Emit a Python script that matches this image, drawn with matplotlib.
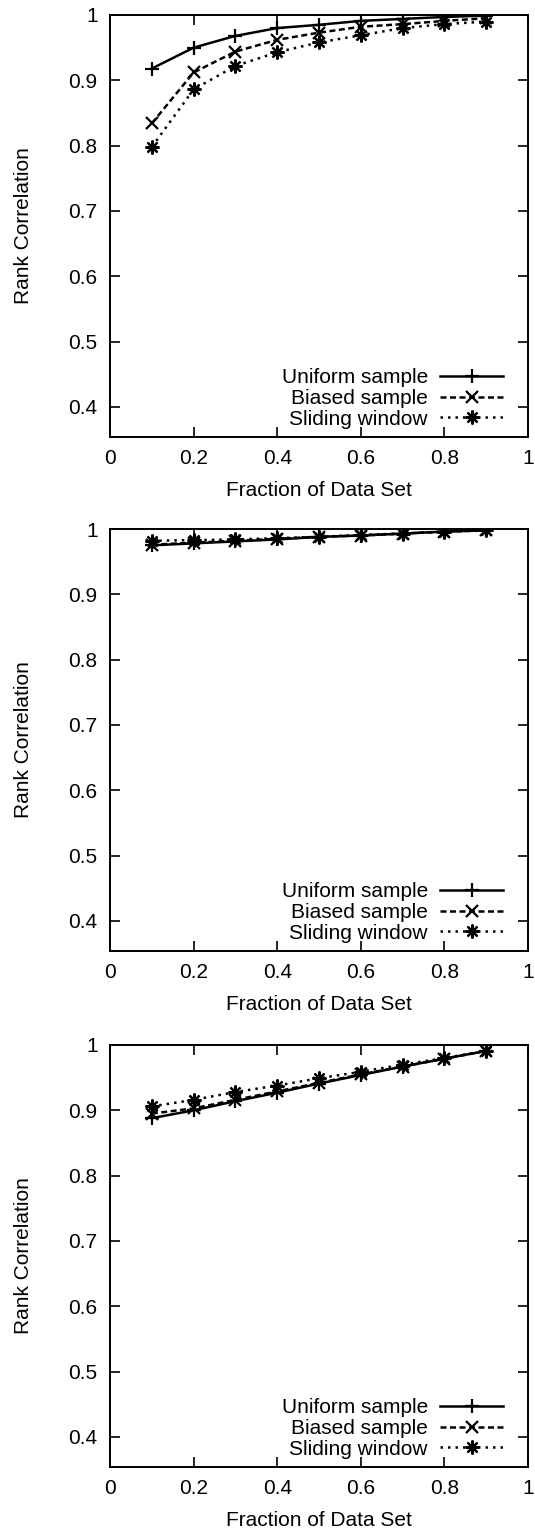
import matplotlib
matplotlib.use('Agg')
import matplotlib.pyplot as plt

plt.rcParams['font.family'] = ['Liberation Sans', 'DejaVu Sans']
plt.rcParams['font.size'] = 15

FRACTION = [0.1, 0.2, 0.3, 0.4, 0.5, 0.6, 0.7, 0.8, 0.9]
LABELS = ['Uniform sample', 'Biased sample', 'Sliding window']
X_TICKS = [0, 0.2, 0.4, 0.6, 0.8, 1]
X_TICK_LABELS = ['0', '0.2', '0.4', '0.6', '0.8', '1']
Y_TICKS = [0.4, 0.5, 0.6, 0.7, 0.8, 0.9, 1.0]
Y_TICK_LABELS = ['0.4', '0.5', '0.6', '0.7', '0.8', '0.9', '1']

# top panel
uniform_1 = [0.918, 0.950, 0.968, 0.980, 0.985, 0.991, 0.994, 0.997, 0.999]
biased_1 = [0.834, 0.912, 0.944, 0.962, 0.973, 0.982, 0.986, 0.991, 0.995]
sliding_1 = [0.798, 0.886, 0.922, 0.943, 0.958, 0.969, 0.980, 0.986, 0.990]

# middle panel
uniform_2 = [0.975, 0.978, 0.981, 0.984, 0.988, 0.990, 0.993, 0.996, 0.998]
biased_2 = [0.976, 0.979, 0.982, 0.985, 0.988, 0.990, 0.993, 0.996, 0.998]
sliding_2 = [0.982, 0.983, 0.984, 0.986, 0.988, 0.991, 0.993, 0.996, 0.998]

# bottom panel
uniform_3 = [0.888, 0.900, 0.914, 0.927, 0.941, 0.954, 0.967, 0.979, 0.991]
biased_3 = [0.895, 0.903, 0.916, 0.929, 0.942, 0.955, 0.967, 0.979, 0.991]
sliding_3 = [0.906, 0.916, 0.928, 0.938, 0.949, 0.959, 0.970, 0.980, 0.991]

PANELS = [(uniform_1, biased_1, sliding_1),
          (uniform_2, biased_2, sliding_2),
          (uniform_3, biased_3, sliding_3)]

STYLES = [dict(linestyle='-', marker='+', markersize=10, markeredgewidth=1.6),
          dict(linestyle=(0, (2.4, 1.4)), marker='x', markersize=8,
               markeredgewidth=1.6),
          dict(linestyle=(0, (1.0, 2.0)), marker=(8, 2, 0), markersize=10,
               markeredgewidth=1.6)]

W, H = 535, 1536
fig = plt.figure(figsize=(W / 100, H / 100), dpi=100)

ax_left, ax_right = 110, 528
panel_tops = [15, 529, 1045]
panel_height = 422

for (uniform, biased, sliding), top in zip(PANELS, panel_tops):
    bottom = top + panel_height
    ax = fig.add_axes([ax_left / W, 1 - bottom / H,
                       (ax_right - ax_left) / W, panel_height / H])
    for series, label, style in zip((uniform, biased, sliding), LABELS, STYLES):
        ax.plot(FRACTION, series, color='black', linewidth=1.8,
                label=label, **style)

    ax.set_xlim(0, 1)
    ax.set_ylim(0.354, 1.0)
    ax.set_xticks(X_TICKS)
    ax.set_xticklabels(X_TICK_LABELS)
    ax.set_yticks(Y_TICKS)
    ax.set_yticklabels(Y_TICK_LABELS)
    ax.tick_params(direction='in', length=7, width=1.2, top=True, right=True)
    ax.tick_params(axis='x', pad=9)
    ax.tick_params(axis='y', pad=9)
    for spine in ax.spines.values():
        spine.set_linewidth(1.4)

    ax.set_xlabel('Fraction of Data Set')
    ax.set_ylabel('Rank Correlation')
    ax.xaxis.set_label_coords(0.5, -0.105)
    ax.yaxis.set_label_coords(-0.185, 0.5)

    ax.legend(loc='lower right', bbox_to_anchor=(0.94, 0.02), frameon=False,
              markerfirst=False, handlelength=3.0, handletextpad=0.6,
              labelspacing=0.08, borderpad=0, borderaxespad=0, numpoints=1)

fig.savefig('out.png', dpi=100)
